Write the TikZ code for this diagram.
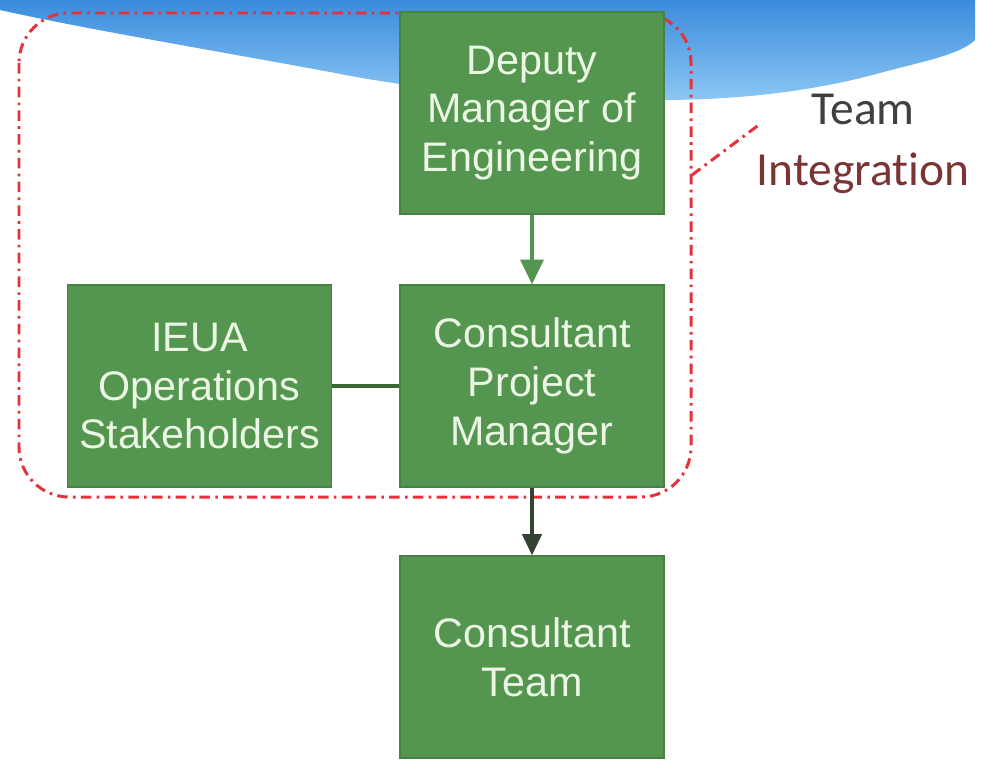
\documentclass[tikz,border=0pt]{standalone}
\usepackage{fontspec}
\setmainfont{Liberation Sans}
\newfontfamily\calib[Ligatures=NoCommon]{Carlito}
\usetikzlibrary{arrows.meta}
\definecolor{boxgreen}{RGB}{84,150,80}
\definecolor{boxedge}{RGB}{70,130,66}
\definecolor{boxtext}{RGB}{236,246,228}
\definecolor{redline}{RGB}{232,48,58}
\definecolor{blueA}{RGB}{58,140,220}
\definecolor{blueB}{RGB}{140,198,244}
\definecolor{darkline}{RGB}{52,66,52}
\definecolor{brownlbl}{RGB}{122,52,52}
\begin{document}
\begin{tikzpicture}[x=0.02cm,y=-0.02cm,
  box/.style={draw=boxedge, line width=0.8pt, fill=boxgreen, text=boxtext,
    align=center, inner sep=0pt, minimum width=5.28cm, minimum height=4.04cm,
    font=\fontsize{23.5}{27.8}\selectfont},
  groupline/.style={draw=redline, line width=1.7pt, dash pattern=on 6pt off 3pt on 1.5pt off 3pt},
  greenarrow/.style={draw=boxgreen, line width=2pt, -{Triangle[width=13pt,length=14pt]}},
  darkarrow/.style={draw=darkline, line width=1.8pt, -{Triangle[width=11pt,length=12pt]}},
  plainline/.style={draw=boxedge!80!black, line width=2pt}]
\useasboundingbox (0,0) rectangle (994,761);
% blue wave background
\shade[top color=blueA, bottom color=blueB]
  (0,0) -- (975,0) -- (975,40)
  .. controls (960,55) and (920,62) .. (880,73)
  .. controls (800,95) and (720,100) .. (660,100)
  .. controls (520,100) and (420,90) .. (330,72)
  .. controls (200,48) and (80,28) .. (0,10) -- cycle;
% group outline
\draw[groupline, rounded corners=1cm] (19,13) rectangle (691,497);
% boxes
\node[box] (dep) at (532,113) {Deputy\\Manager of\\Engineering};
\node[box] (ieua) at (199.5,386) {IEUA\\Operations\\Stakeholders};
\node[box] (cpm) at (532,386) {Consultant\\Project\\Manager};
\node[box] (team) at (532,657) {Consultant\\Team};
% connectors
\draw[greenarrow] (dep.south) -- (cpm.north);
\draw[darkarrow] (cpm.south) -- (team.north);
\draw[plainline] (ieua.east) -- (cpm.west);
% label
\node[font=\calib\fontsize{27}{31}\selectfont, text=black!75, anchor=south] (lblA) at (863,131) {Team};
\node[font=\calib\fontsize{27}{31}\selectfont, text=brownlbl, anchor=base] (lblB) at (863,185) {Integration};
\coordinate (gedge) at (692,175);
\coordinate (lend) at (760,124);
\draw[groupline] (gedge) -- (lend);
\end{tikzpicture}
\end{document}
